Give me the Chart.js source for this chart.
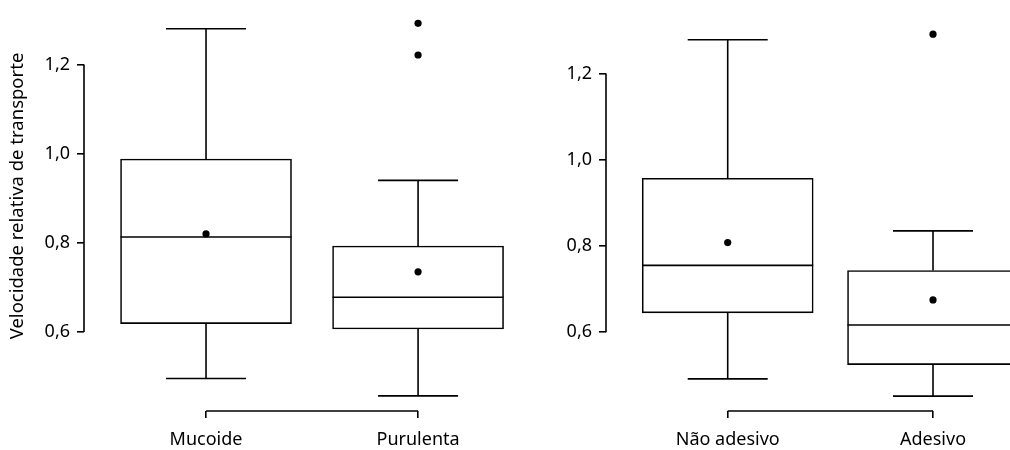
<!DOCTYPE html>
<html>
<head>
<meta charset="utf-8">
<script src="https://cdn.jsdelivr.net/npm/chart.js@4.4.1/dist/chart.umd.min.js"></script>
<style>
  body { margin: 0; background: #fff; }
  .panel { position: absolute; top: 0; width: 505px; height: 450px; }
</style>
</head>
<body>
<div class="panel" style="left:0"><canvas id="leftChart"></canvas></div>
<div class="panel" style="left:505px"><canvas id="rightChart"></canvas></div>
<script>
// box plot values
const yTicks = [0.6, 0.8, 1.0, 1.2];
const yTitle = "Velocidade relativa de transporte";

const leftCats = ["Mucoide", "Purulenta"];
const leftMin = [0.496, 0.457];
const leftQ1 = [0.619, 0.607];
const leftMed = [0.813, 0.678];
const leftQ3 = [0.988, 0.793];
const leftMax = [1.280, 0.940];
const leftMean = [0.820, 0.735];
const leftOut = [[], [1.221, 1.292]];

const rightCats = ["Não adesivo", "Adesivo"];
const rightMin = [0.492, 0.452];
const rightQ1 = [0.645, 0.525];
const rightMed = [0.755, 0.617];
const rightQ3 = [0.957, 0.743];
const rightMax = [1.278, 0.835];
const rightMean = [0.808, 0.675];
const rightOut = [[], [1.291]];

const FONT = "'Noto Sans', 'DejaVu Sans', sans-serif";
const LW = 1.6;

// R style axes: y line only between first and last tick, bracket under categories
const rAxes = {
  id: "rAxes",
  afterDraw(chart, args, opts) {
    const ctx = chart.ctx;
    const x = chart.scales.x, y = chart.scales.y;
    const area = chart.chartArea;
    ctx.save();
    ctx.strokeStyle = "#000";
    ctx.lineWidth = LW;
    ctx.beginPath();
    ctx.moveTo(area.left, y.getPixelForValue(yTicks[0]));
    ctx.lineTo(area.left, y.getPixelForValue(yTicks[yTicks.length - 1]));
    ctx.moveTo(x.getPixelForValue(1), area.bottom);
    ctx.lineTo(x.getPixelForValue(opts.n), area.bottom);
    ctx.stroke();
    if (opts.title) {
      ctx.translate(18, 196);
      ctx.rotate(-Math.PI / 2);
      ctx.fillStyle = "#000";
      ctx.font = "18.5px " + FONT;
      ctx.textAlign = "center";
      ctx.textBaseline = "middle";
      ctx.fillText(opts.title, 0, 0);
    }
    ctx.restore();
  },
};

function makeBoxChart(id, cats, mins, q1, med, q3, maxs, means, outs, cfg) {
  const pos = cats.map((c, i) => i + 1);
  const stems = [];
  pos.forEach((p, i) => {
    stems.push({ x: p, y: q3[i] }, { x: p, y: maxs[i] }, { x: p, y: null });
    stems.push({ x: p, y: q1[i] }, { x: p, y: mins[i] }, { x: p, y: null });
  });
  const caps = [];
  pos.forEach((p, i) => caps.push({ x: p, y: maxs[i] }, { x: p, y: mins[i] }));
  const dots = pos.map((p, i) => ({ x: p, y: means[i] }));
  pos.forEach((p, i) => outs[i].forEach((v) => dots.push({ x: p, y: v })));

  return new Chart(document.getElementById(id), {
    type: "bar",
    data: {
      datasets: [
        {
          type: "bar",
          data: pos.map((p, i) => ({ x: p, y: [q1[i], q3[i]] })),
          backgroundColor: "#fff",
          borderColor: "#000",
          borderWidth: LW,
          borderSkipped: false,
          barThickness: 171,
          order: 5,
        },
        {
          type: "line",
          data: stems,
          borderColor: "#000",
          borderWidth: LW,
          pointRadius: 0,
          spanGaps: false,
          order: 2,
        },
        {
          type: "scatter",
          data: caps,
          pointStyle: "line",
          pointRadius: 40,
          borderColor: "#000",
          borderWidth: LW,
          order: 2,
        },
        {
          type: "scatter",
          data: pos.map((p, i) => ({ x: p, y: med[i] })),
          pointStyle: "line",
          pointRadius: 85.5,
          borderColor: "#000",
          borderWidth: LW,
          order: 1,
        },
        {
          type: "scatter",
          data: dots,
          pointStyle: "circle",
          pointRadius: 3.6,
          backgroundColor: "#000",
          borderWidth: 0,
          order: 0,
        },
      ],
    },
    options: {
      responsive: true,
      maintainAspectRatio: false,
      animation: false,
      events: [],
      layout: { autoPadding: false, padding: { top: 10, left: 0, right: 0, bottom: 0 } },
      plugins: {
        legend: { display: false },
        tooltip: { enabled: false },
        rAxes: { n: cats.length, title: cfg.title },
      },
      scales: {
        x: {
          type: "linear",
          offset: false,
          min: cfg.xmin,
          max: cfg.xmax,
          afterBuildTicks: (s) => { s.ticks = pos.map((v) => ({ value: v })); },
          afterFit: (s) => { s.height = 39; },
          ticks: {
            color: "#000",
            font: { family: FONT, size: 18 },
            padding: 11,
            maxRotation: 0,
            autoSkip: false,
            callback: (v) => cats[v - 1],
          },
          grid: { offset: false, drawOnChartArea: false, drawTicks: true, tickLength: 7, color: "#000", lineWidth: LW },
          border: { display: false },
        },
        y: {
          type: "linear",
          min: cfg.ymin,
          max: cfg.ymax,
          afterBuildTicks: (s) => { s.ticks = yTicks.map((v) => ({ value: v })); },
          afterFit: (s) => { s.width = cfg.axisW; },
          ticks: {
            color: "#000",
            font: { family: FONT, size: 18 },
            padding: 7,
            callback: (v) => v.toFixed(1).replace(".", ","),
          },
          grid: { drawOnChartArea: false, drawTicks: true, tickLength: 7, color: "#000", lineWidth: LW },
          border: { display: false },
        },
      },
    },
    plugins: [rAxes],
  });
}

makeBoxChart("leftChart", leftCats, leftMin, leftQ1, leftMed, leftQ3, leftMax, leftMean, leftOut,
  { axisW: 84, xmin: 0.4245, xmax: 2.41, ymin: 0.4231, ymax: 1.3044, title: yTitle });
makeBoxChart("rightChart", rightCats, rightMin, rightQ1, rightMed, rightQ3, rightMax, rightMean, rightOut,
  { axisW: 101, xmin: 0.4072, xmax: 2.375, ymin: 0.4175, ymax: 1.3289, title: null });
</script>
</body>
</html>
